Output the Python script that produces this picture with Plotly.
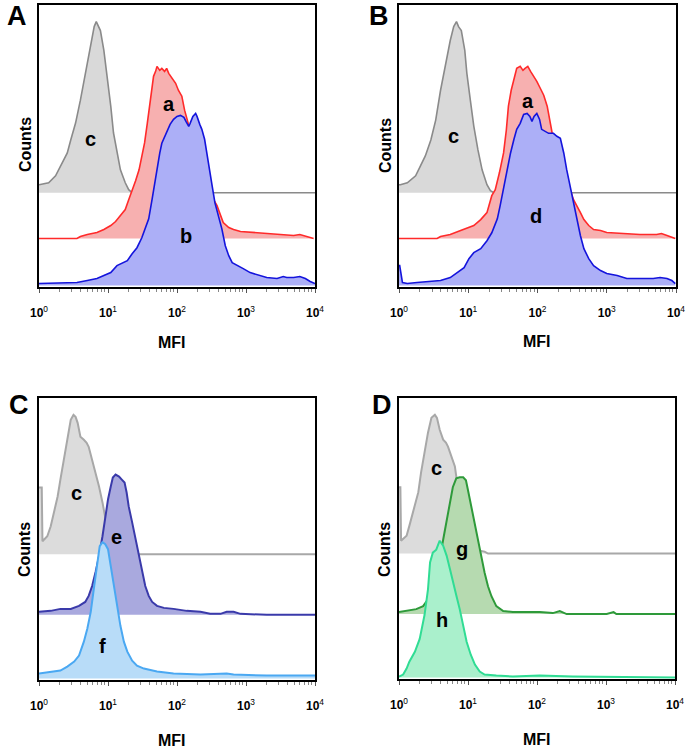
import plotly.graph_objects as go

# ---------------- DATA (x = log10 MFI, y = counts) ----------------
# Panel A
A_c_x = [0.00, 0.14, 0.24, 0.34, 0.41, 0.46, 0.53, 0.60, 0.67, 0.75, 0.80, 0.83, 0.87, 0.89, 0.94, 0.99, 1.04, 1.08, 1.13, 1.18, 1.25, 1.30, 1.35, 4.00]
A_c_y = [8, 10, 17, 30, 40, 53, 70, 93, 120, 147, 167, 172, 165, 163, 143, 117, 87, 60, 40, 23, 10, 3, 0, 0]
A_a_x = [0.00, 0.55, 0.60, 0.70, 0.84, 0.94, 1.04, 1.11, 1.18, 1.25, 1.30, 1.35, 1.40, 1.45, 1.49, 1.53, 1.57, 1.59, 1.61, 1.64, 1.66, 1.69, 1.71, 1.75, 1.78, 1.82, 1.85, 1.88, 1.93, 1.98, 2.02, 2.07, 2.11, 2.17, 2.24, 2.34, 2.43, 2.53, 2.58, 2.63, 2.67, 2.75, 2.82, 2.92, 3.11, 3.30, 3.49, 3.69, 3.78, 3.88, 3.98]
A_a_y = [0, 0, 2, 4, 6, 9, 13, 17, 23, 29, 39, 48, 58, 69, 83, 96, 116, 126, 139, 153, 163, 168, 173, 169, 171, 168, 171, 166, 161, 156, 149, 143, 129, 113, 96, 76, 58, 39, 33, 23, 16, 11, 9, 7, 6, 5, 4, 3, 4, 2, 0]
A_b_x = [0.00, 0.55, 0.70, 0.84, 0.94, 1.04, 1.13, 1.20, 1.28, 1.35, 1.42, 1.49, 1.54, 1.59, 1.64, 1.67, 1.71, 1.75, 1.78, 1.82, 1.86, 1.90, 1.95, 2.00, 2.05, 2.10, 2.13, 2.17, 2.19, 2.23, 2.27, 2.29, 2.33, 2.36, 2.40, 2.43, 2.47, 2.51, 2.55, 2.60, 2.65, 2.70, 2.75, 2.80, 2.87, 2.96, 3.06, 3.16, 3.30, 3.45, 3.54, 3.59, 3.69, 3.78, 3.86, 3.93, 4.00]
A_b_y = [2, 3, 5, 7, 10, 13, 20, 22, 25, 32, 38, 48, 57, 67, 87, 100, 120, 133, 143, 150, 155, 162, 167, 170, 171, 169, 165, 160, 163, 170, 173, 170, 162, 157, 147, 133, 117, 100, 83, 70, 57, 40, 30, 23, 20, 17, 13, 11, 8, 7, 9, 8, 8, 9, 7, 4, 2]

# Panel B
B_c_x = [0.00, 0.02, 0.12, 0.24, 0.31, 0.38, 0.46, 0.53, 0.60, 0.67, 0.74, 0.79, 0.83, 0.86, 0.90, 0.95, 0.98, 1.03, 1.08, 1.14, 1.20, 1.27, 1.32, 1.37, 4.00]
B_c_y = [8, 8, 10, 17, 27, 37, 53, 73, 103, 130, 153, 167, 172, 167, 163, 143, 120, 93, 67, 43, 23, 8, 2, 0, 0]
B_a_x = [0.00, 0.55, 0.60, 0.74, 0.89, 0.98, 1.08, 1.18, 1.27, 1.34, 1.39, 1.45, 1.51, 1.55, 1.58, 1.62, 1.66, 1.70, 1.75, 1.79, 1.82, 1.86, 1.90, 1.94, 1.99, 2.04, 2.09, 2.14, 2.18, 2.23, 2.33, 2.40, 2.47, 2.52, 2.57, 2.62, 2.67, 2.74, 2.81, 2.91, 3.00, 3.24, 3.48, 3.72, 3.79, 3.87, 3.99]
B_a_y = [0, 0, 2, 4, 8, 10, 13, 19, 26, 43, 49, 66, 86, 109, 133, 149, 159, 171, 173, 169, 171, 173, 168, 164, 158, 151, 144, 133, 119, 99, 79, 63, 49, 39, 33, 26, 19, 13, 9, 8, 6, 5, 4, 4, 5, 3, 0]
B_d_x = [0.00, 0.01, 0.05, 0.12, 0.26, 0.41, 0.60, 0.74, 0.84, 0.94, 1.01, 1.08, 1.18, 1.27, 1.34, 1.42, 1.46, 1.51, 1.56, 1.61, 1.66, 1.70, 1.75, 1.80, 1.85, 1.89, 1.92, 1.95, 1.99, 2.03, 2.06, 2.11, 2.16, 2.23, 2.28, 2.33, 2.35, 2.38, 2.42, 2.47, 2.52, 2.57, 2.62, 2.67, 2.74, 2.81, 2.91, 3.00, 3.15, 3.29, 3.48, 3.67, 3.77, 3.87, 3.94, 3.99]
B_d_y = [20, 20, 3, 2, 3, 4, 5, 8, 13, 18, 27, 33, 37, 45, 53, 67, 80, 97, 117, 133, 147, 157, 163, 172, 173, 170, 165, 170, 173, 167, 157, 155, 153, 153, 150, 148, 143, 133, 117, 100, 83, 67, 50, 37, 27, 20, 15, 12, 10, 7, 7, 7, 8, 7, 5, 2]

# Panel C
C_c_x = [0.00, 0.04, 0.05, 0.12, 0.17, 0.22, 0.27, 0.31, 0.36, 0.41, 0.46, 0.50, 0.53, 0.56, 0.60, 0.65, 0.69, 0.72, 0.77, 0.82, 0.87, 0.92, 0.96, 1.01, 1.06, 1.11, 1.16, 1.20, 4.00]
C_c_y = [67, 67, 13, 18, 28, 42, 58, 75, 95, 115, 135, 140, 138, 132, 118, 115, 112, 108, 95, 82, 68, 52, 35, 18, 8, 3, 2, 0, 0]
C_e_x = [0.00, 0.17, 0.31, 0.46, 0.58, 0.67, 0.72, 0.77, 0.82, 0.87, 0.92, 0.96, 1.00, 1.04, 1.07, 1.11, 1.16, 1.20, 1.24, 1.27, 1.30, 1.35, 1.40, 1.45, 1.49, 1.54, 1.59, 1.64, 1.71, 1.81, 1.95, 2.14, 2.34, 2.48, 2.63, 2.72, 2.82, 2.92, 3.30, 4.00]
C_e_y = [3, 4, 6, 6, 9, 13, 19, 29, 43, 59, 79, 99, 116, 129, 138, 141, 139, 136, 133, 123, 109, 93, 76, 59, 43, 29, 19, 13, 9, 7, 6, 4, 3, 1, 1, 3, 3, 1, 0, 0]
C_f_x = [0.00, 0.17, 0.31, 0.41, 0.51, 0.58, 0.65, 0.70, 0.75, 0.80, 0.84, 0.88, 0.92, 0.96, 1.00, 1.04, 1.08, 1.13, 1.18, 1.23, 1.28, 1.35, 1.42, 1.52, 1.71, 1.95, 2.34, 2.72, 2.82, 3.30, 4.00]
C_f_y = [5, 7, 8, 12, 17, 23, 37, 50, 67, 93, 113, 133, 137, 135, 130, 113, 93, 73, 53, 37, 27, 18, 13, 10, 7, 5, 4, 5, 4, 3, 3]

# Panel D
D_c_x = [0.00, 0.02, 0.03, 0.11, 0.15, 0.20, 0.28, 0.32, 0.37, 0.42, 0.47, 0.52, 0.55, 0.59, 0.64, 0.68, 0.71, 0.76, 0.81, 0.83, 0.88, 0.93, 0.98, 1.04, 1.10, 1.17, 1.24, 1.29, 4.00]
D_c_y = [67, 67, 13, 18, 28, 42, 62, 82, 102, 122, 137, 140, 137, 125, 115, 112, 108, 98, 88, 78, 65, 48, 32, 18, 8, 3, 2, 0, 0]
D_g_x = [0.00, 0.11, 0.25, 0.35, 0.42, 0.49, 0.57, 0.64, 0.69, 0.74, 0.78, 0.83, 0.88, 0.93, 0.97, 1.00, 1.05, 1.10, 1.15, 1.19, 1.24, 1.29, 1.34, 1.41, 1.51, 1.65, 2.04, 2.23, 2.33, 2.43, 3.01, 3.11, 3.15, 4.00]
D_g_y = [2, 3, 5, 8, 15, 28, 48, 75, 95, 112, 128, 137, 138, 138, 135, 125, 108, 92, 75, 58, 42, 28, 18, 8, 3, 2, 2, 1, 3, 0, 0, 2, 0, 0]
D_h_x = [0.00, 0.06, 0.11, 0.15, 0.23, 0.30, 0.37, 0.42, 0.45, 0.49, 0.54, 0.59, 0.64, 0.69, 0.74, 0.78, 0.83, 0.88, 0.93, 0.98, 1.04, 1.10, 1.17, 1.24, 1.41, 1.65, 2.04, 2.52, 4.00]
D_h_y = [1, 3, 9, 16, 26, 39, 63, 89, 116, 126, 129, 138, 133, 123, 109, 96, 83, 69, 53, 36, 23, 13, 6, 3, 2, 1, 2, 1, 0]

tick_vals = [1, 10, 100, 1000, 10000]
tick_text = ["<b>10</b><sup>0</sup>", "<b>10</b><sup>1</sup>", "<b>10</b><sup>2</sup>",
             "<b>10</b><sup>3</sup>", "<b>10</b><sup>4</sup>"]

# ---------------- FIGURE ----------------
W, H = 696, 754
fig = go.Figure()

def px_x(p):
    return p / W

def px_y(p):
    return 1 - p / H

panels = {
    "A": dict(xd=[px_x(39), px_x(315)], yd=[px_y(287), px_y(5)], ax=""),
    "B": dict(xd=[px_x(399), px_x(676)], yd=[px_y(287), px_y(5)], ax="2"),
    "C": dict(xd=[px_x(39), px_x(315)], yd=[px_y(680), px_y(398)], ax="3"),
    "D": dict(xd=[px_x(399), px_x(675)], yd=[px_y(679), px_y(398)], ax="4"),
}

def add_hist(ax, xs, ys, offset, line_col, fill_col, lw=1.6):
    X = [10 ** v for v in xs]
    Y = [offset + v for v in ys]
    fig.add_trace(go.Scatter(
        x=X + [X[-1], X[0]], y=Y + [offset, offset],
        mode="lines", fill="toself", fillcolor=fill_col,
        line=dict(width=0, color=fill_col), hoverinfo="skip",
        showlegend=False, xaxis="x" + ax, yaxis="y" + ax))
    fig.add_trace(go.Scatter(
        x=X, y=Y, mode="lines", line=dict(width=lw, color=line_col),
        showlegend=False, xaxis="x" + ax, yaxis="y" + ax))

GRAY_L, GRAY_F = "#8a8a8a", "#d9d9d9"
add_hist("", A_c_x, A_c_y, 93.3, GRAY_L, GRAY_F)
add_hist("", A_a_x, A_a_y, 47.3, "#ff2a2a", "#f7b0b0")
add_hist("", A_b_x, A_b_y, 0, "#1414dc", "#acaff7")
add_hist("2", B_c_x, B_c_y, 93.3, GRAY_L, GRAY_F)
add_hist("2", B_a_x, B_a_y, 47.3, "#ff2a2a", "#f7b0b0")
add_hist("2", B_d_x, B_d_y, 0, "#1414dc", "#acaff7")
add_hist("3", C_c_x, C_c_y, 125, "#a8a8a8", "#dcdcdc", lw=2)
add_hist("3", C_e_x, C_e_y, 64, "#3a3aaa", "#a9a9de", lw=2)
add_hist("3", C_f_x, C_f_y, 0, "#4aa8f2", "#b8dcf8", lw=2)
add_hist("4", D_c_x, D_c_y, 125, "#a8a8a8", "#dcdcdc", lw=2)
add_hist("4", D_g_x, D_g_y, 64, "#2e9a3a", "#b6dab0", lw=2)
add_hist("4", D_h_x, D_h_y, 0, "#30dc94", "#aaf0cc", lw=2)

layout = dict(width=W, height=H, margin=dict(l=0, r=0, t=0, b=0, autoexpand=False),
              paper_bgcolor="white", plot_bgcolor="white",
              font=dict(family="Liberation Sans, Arial, sans-serif", color="black"))

for name, p in panels.items():
    ax = p["ax"]
    layout["xaxis" + ax] = dict(
        domain=p["xd"], type="log", range=[0, 4], anchor="y" + ax, automargin=False,
        showline=True, linecolor="black", linewidth=2, mirror=True,
        showgrid=False, zeroline=False,
        tickvals=tick_vals, ticktext=tick_text,
        ticks="outside", ticklen=4, tickcolor="#555", tickwidth=1,
        ticklabelstandoff=10,
        tickfont=dict(size=12, family="Liberation Sans, Arial", color="black"),
        minor=dict(ticks="outside", ticklen=3, tickcolor="#888",
                   tickvals=[m * 10 ** d for d in range(4) for m in range(2, 10)]),
        fixedrange=True)
    layout["yaxis" + ax] = dict(
        domain=p["yd"], range=[-1.5, 282], anchor="x" + ax, automargin=False,
        showline=True, linecolor="black", linewidth=2, mirror=True,
        showgrid=False, zeroline=False, showticklabels=False, ticks="",
        fixedrange=True)
fig.update_layout(**layout)

ann = []
labels = [
    ("", "c", 0.75, 147), ("", "a", 1.88, 182), ("", "b", 2.13, 50),
    ("2", "c", 0.79, 150), ("2", "a", 1.86, 185), ("2", "d", 1.98, 70),
    ("3", "c", 0.55, 187), ("3", "e", 1.13, 142), ("3", "f", 0.92, 33),
    ("4", "c", 0.55, 211), ("4", "g", 0.91, 130), ("4", "h", 0.63, 58),
]
for ax, t, lx, ly in labels:
    ann.append(dict(text="<b>%s</b>" % t, x=lx, y=ly, xref="x" + ax, yref="y" + ax,
                    xanchor="center", yanchor="middle",
                    showarrow=False, font=dict(size=20, color="black")))

for t, x, y in [("A", 17, 16), ("B", 379, 16), ("C", 19, 405), ("D", 382, 405)]:
    ann.append(dict(text="<b>%s</b>" % t, x=x / W, y=1 - y / H, xref="paper", yref="paper",
                    xanchor="center", yanchor="middle",
                    showarrow=False, font=dict(size=27, color="black")))
for x, y in [(25, 145), (385, 145), (24, 550), (384, 550)]:
    ann.append(dict(text="<b>Counts</b>", x=x / W, y=1 - y / H, xref="paper", yref="paper",
                    xanchor="center", yanchor="middle",
                    showarrow=False, textangle=-90, font=dict(size=16, color="black")))
for x, y in [(172, 343), (537, 341), (172, 740), (537, 739)]:
    ann.append(dict(text="<b>MFI</b>", x=x / W, y=1 - y / H, xref="paper", yref="paper",
                    xanchor="center", yanchor="middle",
                    showarrow=False, font=dict(size=16, color="black")))
fig.update_layout(annotations=ann)

fig.write_html("out.html", config={"displayModeBar": False},
               post_script="document.body.style.margin='0px';document.body.style.overflow='hidden';")
